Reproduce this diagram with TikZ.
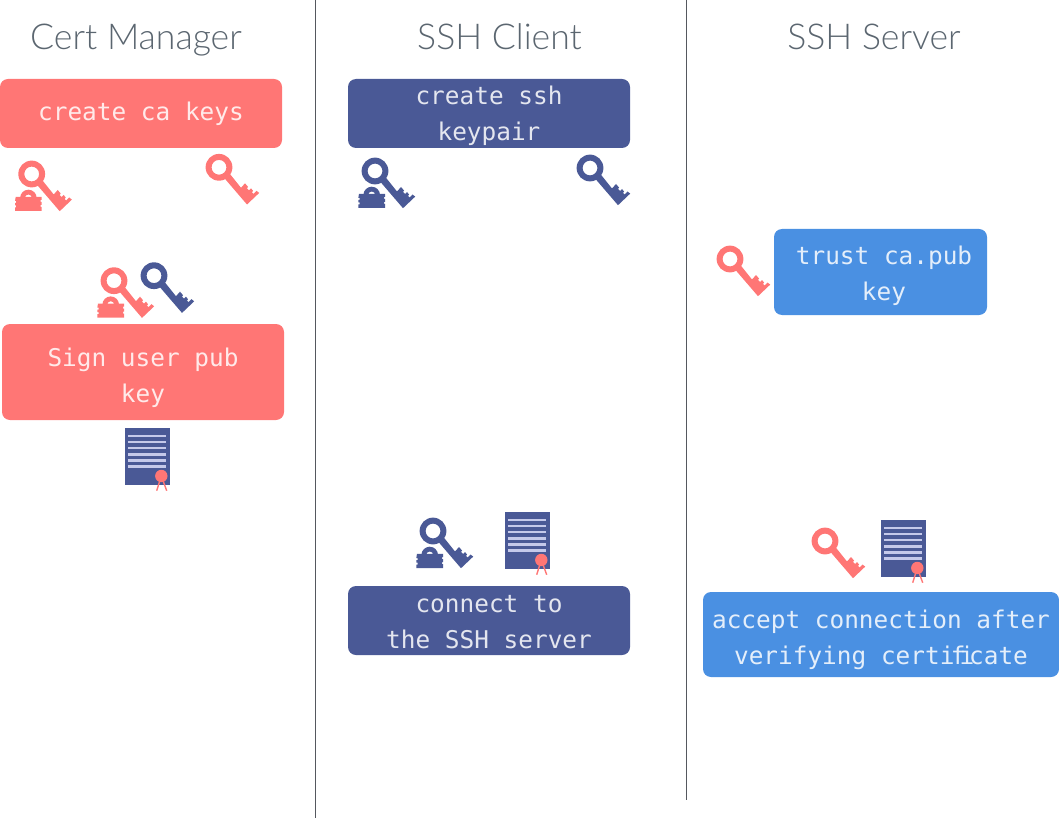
\documentclass[tikz,border=0pt]{standalone}
\usepackage{fontspec}
\setmonofont{DejaVu Sans Mono}
\newfontfamily\titlefont{Lato Light}
\definecolor{CaPink}{HTML}{ff7675}
\definecolor{UserNavy}{HTML}{4a5996}
\definecolor{HostBlue}{HTML}{4a90e2}
\definecolor{RuleGrey}{HTML}{55585e}
\definecolor{TitleGrey}{HTML}{5b6670}
\definecolor{SheetLine}{HTML}{c5c9ea}
\newcommand{\droptext}[1]{\rule{0pt}{#1pt}}
\tikzset{
    actor/.style={text=TitleGrey, anchor=base, font=\titlefont\fontsize{35.6}{40}\selectfont},
    actionbox/.style={fill=#1, rounded corners=8, text=white, text opacity=.85, align=center, inner sep=0,
        font=\ttfamily\fontsize{24.4}{36}\selectfont},
    pics/keyicon/.style={code={
        \fill[#1,even odd rule] (0,0) circle (13.4) (0,0) circle (7.4);
        \fill[#1] (10,5.5) -- (22,20.5) -- (26,16) -- (29,19.5) -- (28,21) -- (30,23) -- (32,21)
            -- (34,23.5) -- (33,25) -- (34.5,26.5) -- (37.5,23.5) -- (40.2,25.6)
            -- (28,37.2) -- (2.5,7.5) -- cycle;
    }},
    pics/lockicon/.style={code={
        \fill[#1] (-11.6,24) arc (180:360:8.3) -- (0.2,24) arc (360:180:3.5) -- cycle;
        \fill[#1] (-16,22.8) -- (10,22.8) -- (10,26) -- (9,26) -- (9,28) -- (10,28) -- (10,31)
            -- (9,31) -- (9,33) -- (10,33) -- (10,37) -- (-16.7,37) -- (-16.7,33.5) -- (-15.5,33.5)
            -- (-15.5,31.5) -- (-16.7,31.5) -- (-16.7,29) -- (-15.5,29) -- (-15.5,27) -- (-16.7,27) -- cycle;
    }},
    pics/certicon/.style={code={
        \fill[UserNavy] (0,0) rectangle (45,57);
        \foreach \n in {0,...,5}
        {
            \fill[SheetLine] (3,8+6.1*\n-1.2) rectangle (41,8+6.1*\n+1.2);
        }
        \draw[CaPink,line width=1.4] (36.3,48) -- (31.7,62.7);
        \draw[CaPink,line width=1.4] (36.3,48) -- (41.7,62.7);
        \fill[CaPink] (36.3,48) circle (6.2);
    }}
}
\begin{document}
\begin{tikzpicture}[x=1pt,y=-1pt]
    \useasboundingbox (0,0) rectangle (1059,818);

    \draw[RuleGrey,line width=1] (315.5,0) -- (315.5,818);
    \draw[RuleGrey,line width=1] (686.5,0) -- (686.5,800);

    \node[actor] (manager) at (136,50) {Cert Manager};
    \node[actor] (client) at (499.5,50) {SSH Client};
    \node[actor] (server) at (874,50) {SSH Server};

    \node[actionbox=CaPink, minimum width=282, minimum height=69] (createca) at (141,113.5) {\droptext{20}create ca keys};
    \node[actionbox=UserNavy, minimum width=282, minimum height=69] (createssh) at (489,113.5) {\droptext{24}create ssh\\keypair};
    \node[actionbox=CaPink, minimum width=282, minimum height=96] (signuser) at (143,372) {\droptext{30}Sign user pub\\key};
    \node[actionbox=HostBlue, minimum width=213, minimum height=86] (trustca) at (880.5,272) {\droptext{26}\hspace*{7pt}trust ca.pub\\\hspace*{7pt}key};
    \node[actionbox=UserNavy, minimum width=282, minimum height=69] (connect) at (489,620.5) {\droptext{20}connect to\\the SSH server};
    \node[actionbox=HostBlue, minimum width=356, minimum height=85] (accept) at (881,634.5) {\droptext{29}accept connection after\\verifying certi\kern-3.5pt f\kern-6pt i\kern-5.2pt cate};

    % cert manager
    \pic at (31.7,174) {keyicon=CaPink};
    \pic at (31.7,174) {lockicon=CaPink};
    \pic at (219,167.3) {keyicon=CaPink};
    \pic at (114,280.7) {keyicon=CaPink};
    \pic at (114,280.7) {lockicon=CaPink};
    \pic at (154,275.7) {keyicon=UserNavy};
    \pic at (125,428) {certicon};

    % ssh client
    \pic at (375,171) {keyicon=UserNavy};
    \pic at (375,171) {lockicon=UserNavy};
    \pic at (590,168) {keyicon=UserNavy};
    \pic at (433,531) {keyicon=UserNavy};
    \pic at (433,531) {lockicon=UserNavy};
    \pic at (505,512) {certicon};

    % ssh server
    \pic at (730,259) {keyicon=CaPink};
    \pic at (825,541) {keyicon=CaPink};
    \pic at (881,520) {certicon};
\end{tikzpicture}
\end{document}
